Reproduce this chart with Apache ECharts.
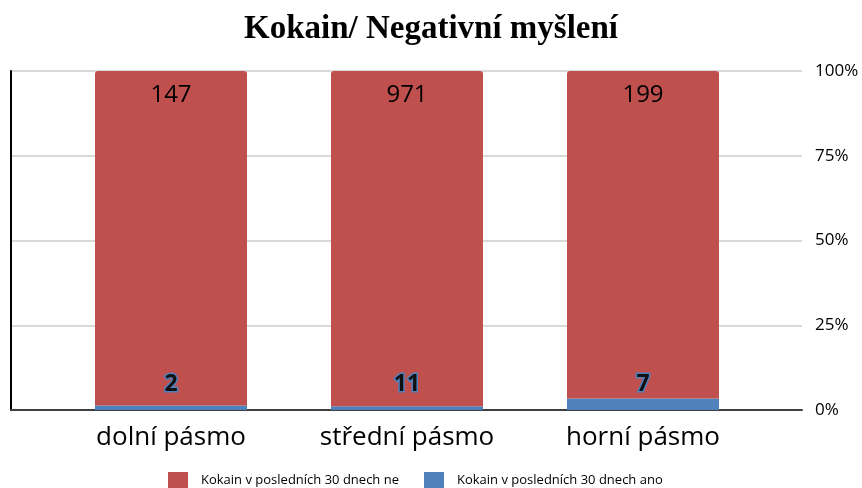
<!DOCTYPE html>
<html>
<head>
<meta charset="utf-8">
<script src="https://cdn.jsdelivr.net/npm/echarts@6/dist/echarts.min.js"></script>
<style>
  html, body { margin: 0; padding: 0; background: #fff; }
  #chart { width: 862px; height: 488px; }
</style>
</head>
<body>
<div id="chart"></div>
<script>
const categories = ['dolní pásmo', 'střední pásmo', 'horní pásmo']
const seriesNames = ['Kokain v posledních 30 dnech ne', 'Kokain v posledních 30 dnech ano']
const countsNe = [147, 971, 199]
const countsAno = [2, 11, 7]

const red = '#C0504D'
const blue = '#4F81BD'

// 100% stacked: share of each group
const totals = countsNe.map((v, i) => v + countsAno[i])
const pctAno = countsAno.map((v, i) => ({ value: v / totals[i] * 100, count: v }))
const pctNe = countsNe.map((v, i) => ({ value: v / totals[i] * 100, count: v }))

const chart = echarts.init(document.getElementById('chart'))

chart.setOption({
  animation: false,
  title: {
    text: 'Kokain/ Negativní myšlení',
    left: 'center',
    top: 8,
    textStyle: {
      fontFamily: 'Liberation Serif',
      fontWeight: 'bold',
      fontSize: 33,
      color: '#000'
    }
  },
  legend: {
    top: 472,
    left: 168,
    padding: 0,
    itemWidth: 20,
    itemHeight: 16,
    itemGap: 25,
    icon: 'rect',
    data: [seriesNames[0], seriesNames[1]],
    textStyle: { fontFamily: 'Open Sans', fontSize: 13, color: '#000', padding: [0, 0, 0, 8] }
  },
  grid: [
    // outer frame: gridlines, left line, baseline, % labels
    { left: 11, right: 60, top: 71, bottom: 78 },
    // bars and category labels
    { left: 53, right: 101, top: 71, bottom: 78 }
  ],
  xAxis: [
    {
      gridIndex: 0,
      type: 'value',
      min: 0,
      max: 1,
      splitLine: { show: false },
      axisTick: { show: false },
      axisLabel: { show: false },
      axisLine: { show: true, lineStyle: { color: '#404040', width: 2 } }
    },
    {
      gridIndex: 1,
      type: 'category',
      data: categories,
      axisLine: { show: false },
      axisTick: { show: false },
      axisLabel: {
        fontFamily: 'Open Sans',
        fontSize: 26,
        color: '#000',
        margin: 15
      }
    }
  ],
  yAxis: [
    {
      gridIndex: 0,
      type: 'value',
      position: 'right',
      min: 0,
      max: 100,
      interval: 25,
      axisLine: { show: false },
      axisTick: { show: false },
      splitLine: { show: true, lineStyle: { color: '#d9d9d9', width: 2 } },
      axisLabel: {
        formatter: '{value}%',
        fontFamily: 'Open Sans',
        fontSize: 17,
        color: '#000',
        margin: 13
      }
    },
    {
      gridIndex: 0,
      type: 'value',
      position: 'left',
      min: 0,
      max: 100,
      interval: 25,
      axisLine: { show: true, onZero: false, lineStyle: { color: '#000', width: 2 } },
      axisTick: { show: false },
      axisLabel: { show: false },
      splitLine: { show: false }
    },
    {
      gridIndex: 1,
      type: 'value',
      min: 0,
      max: 100,
      show: false
    }
  ],
  series: [
    {
      name: seriesNames[1],
      type: 'bar',
      xAxisIndex: 1,
      yAxisIndex: 2,
      stack: 'total',
      barWidth: 152,
      data: pctAno,
      itemStyle: { color: blue },
      label: {
        show: true,
        position: 'insideBottom',
        distance: 14,
        formatter: p => p.data.count,
        fontFamily: 'Open Sans',
        fontWeight: 'bold',
        fontSize: 23,
        color: '#111',
        textBorderColor: blue,
        textBorderWidth: 3
      }
    },
    {
      name: seriesNames[0],
      type: 'bar',
      xAxisIndex: 1,
      yAxisIndex: 2,
      stack: 'total',
      barWidth: 152,
      data: pctNe,
      itemStyle: { color: red, borderRadius: [3, 3, 0, 0] },
      label: {
        show: true,
        position: 'insideTop',
        distance: 12,
        formatter: p => p.data.count,
        fontFamily: 'Open Sans',
        fontSize: 24,
        color: '#000'
      }
    }
  ]
})
</script>
</body>
</html>
